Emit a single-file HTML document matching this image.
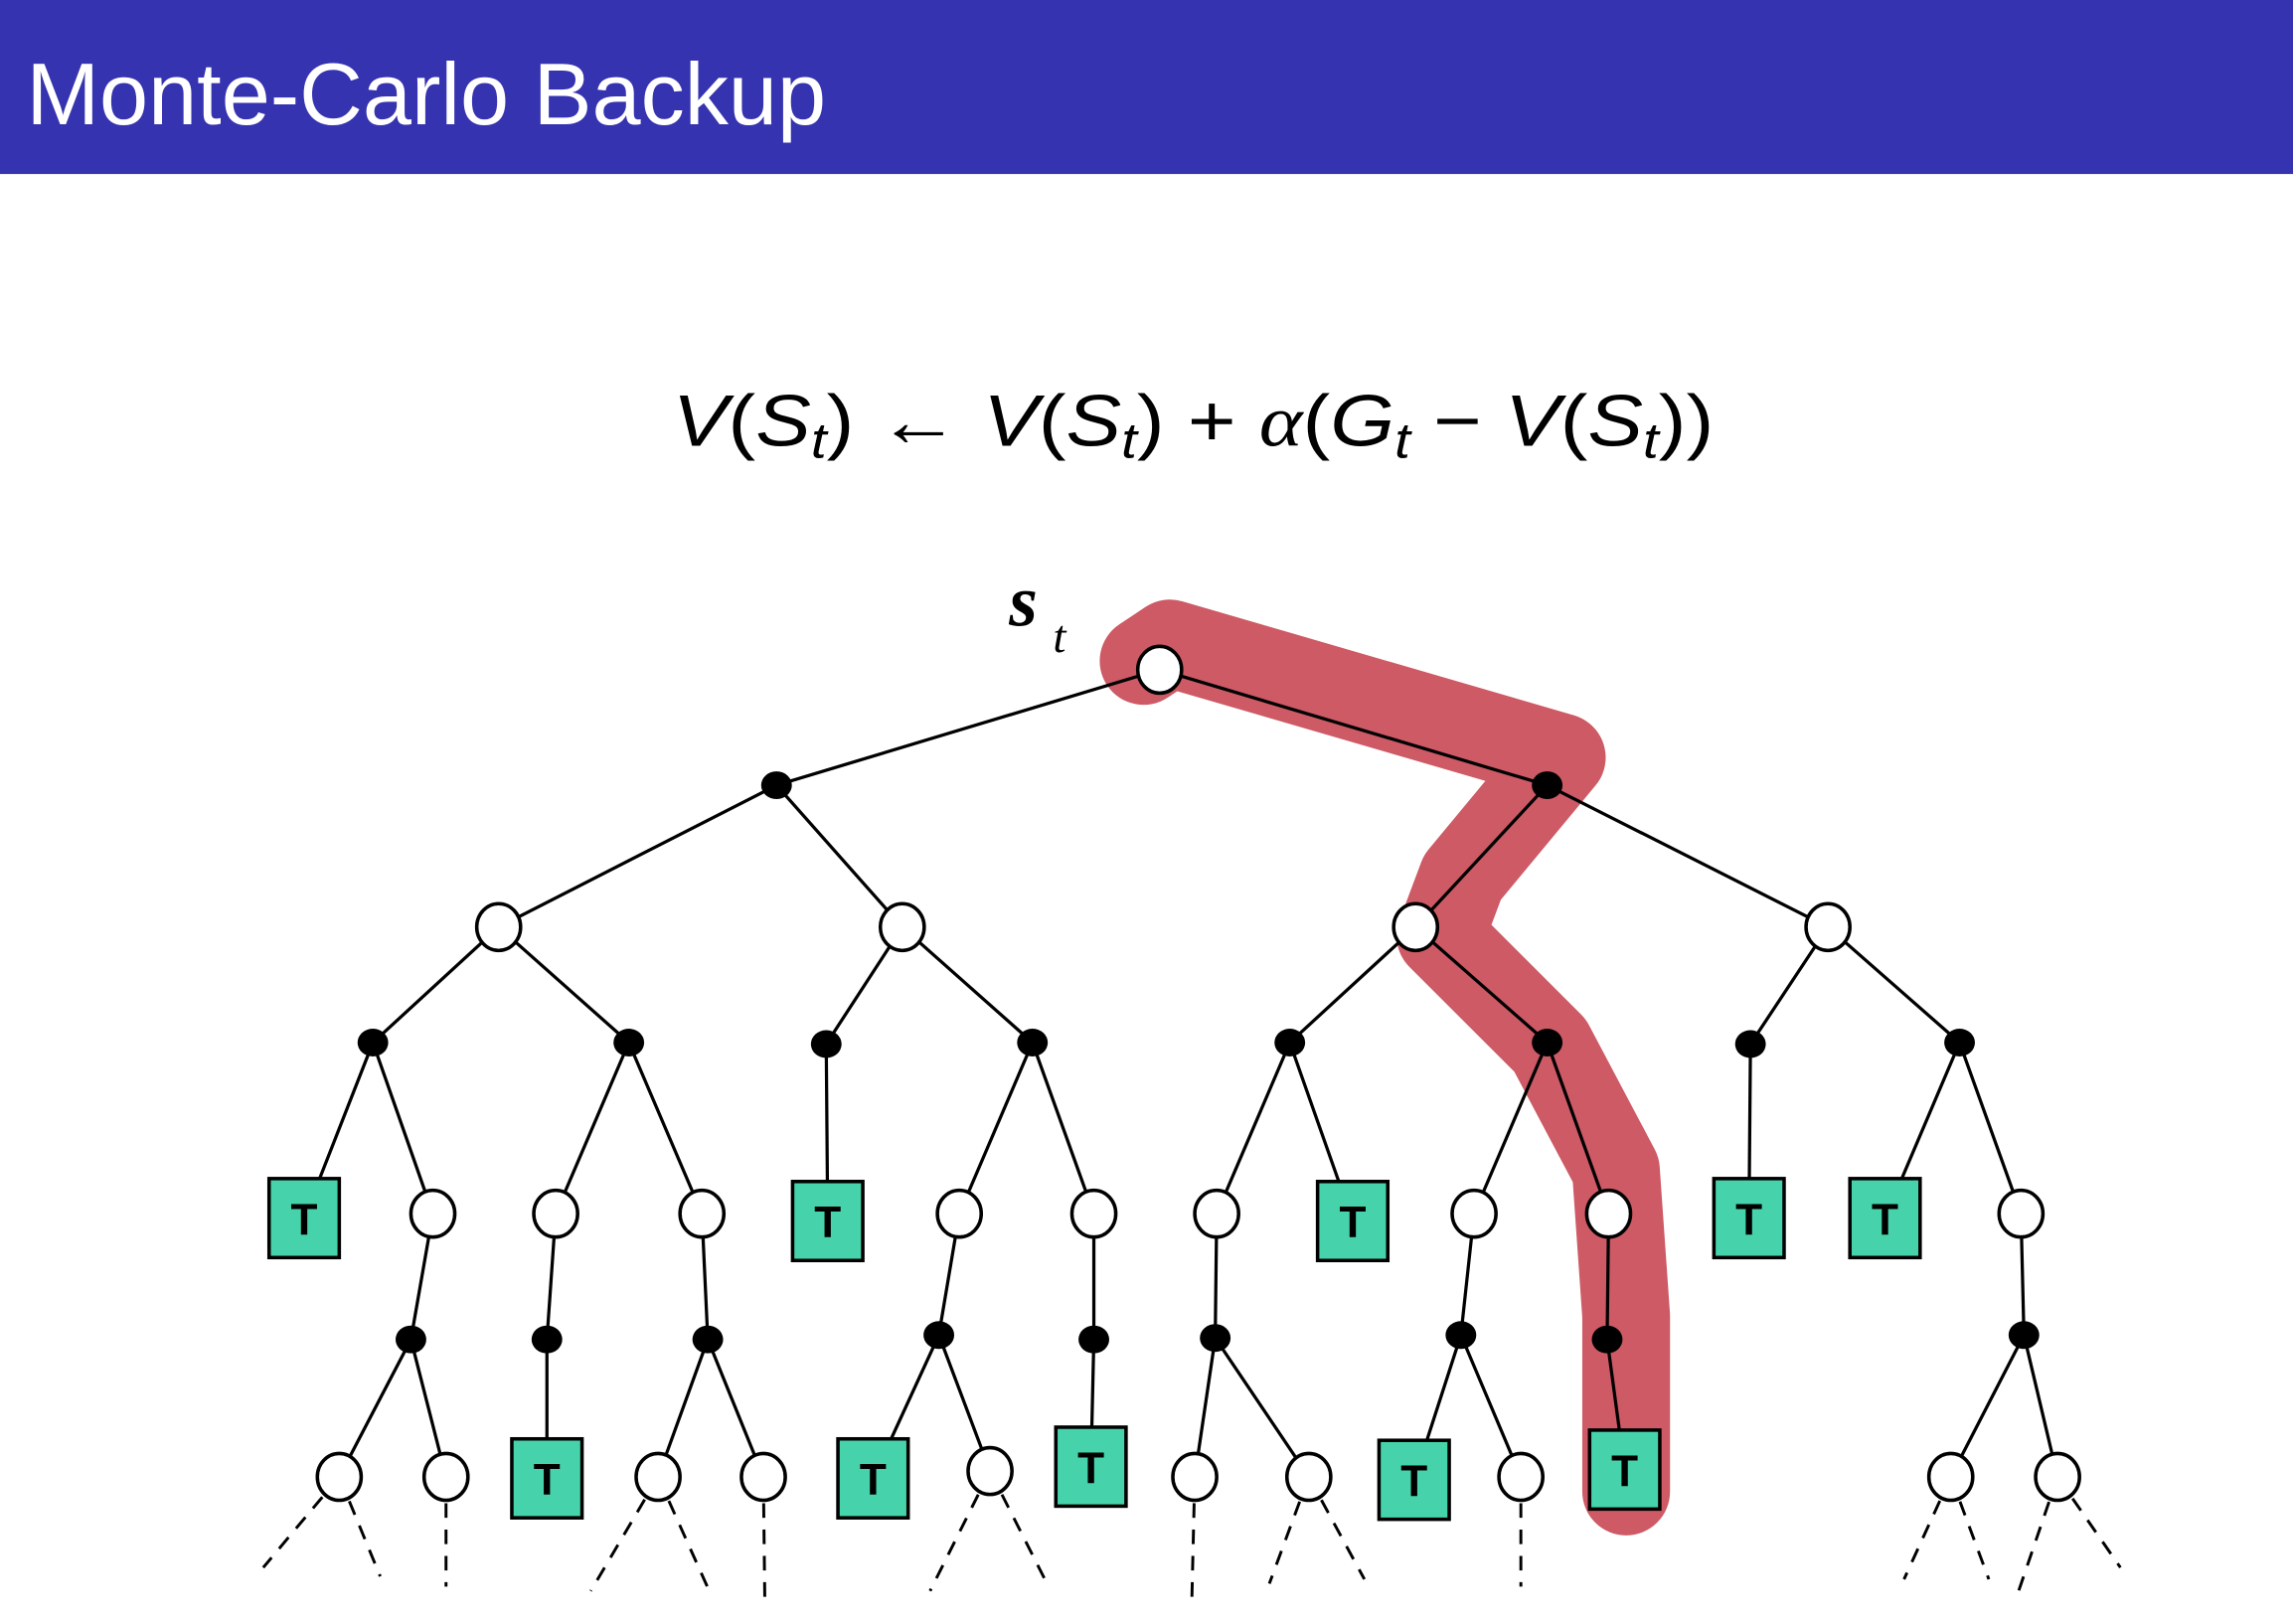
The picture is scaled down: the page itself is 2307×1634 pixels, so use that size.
<!DOCTYPE html>
<html><head><meta charset="utf-8"><style>
html,body{margin:0;padding:0;background:#fff;}
svg{display:block;}
</style></head><body>
<svg id="fig" width="2307" height="1634" viewBox="0 0 1568 1110.6" preserveAspectRatio="none" xmlns="http://www.w3.org/2000/svg">
<rect x="0" y="0" width="1568" height="119" fill="#3633B0"/>
<text x="18" y="85" font-family="'Liberation Sans',sans-serif" font-size="60" fill="#fff">Monte-Carlo Backup</text>
<text x="460" y="305" font-family="'Liberation Sans',sans-serif" font-size="50" fill="#000" textLength="712" lengthAdjust="spacingAndGlyphs"><tspan font-style="italic">V</tspan>(<tspan font-style="italic">S</tspan><tspan font-style="italic" font-size="34" dy="8">t</tspan><tspan dy="-8">) ← </tspan><tspan font-style="italic">V</tspan>(<tspan font-style="italic">S</tspan><tspan font-style="italic" font-size="34" dy="8">t</tspan><tspan dy="-8">) + </tspan><tspan font-family="'Liberation Serif',serif" font-style="italic">α</tspan>(<tspan font-style="italic">G</tspan><tspan font-style="italic" font-size="34" dy="8">t</tspan><tspan dy="-8"> − </tspan><tspan font-style="italic">V</tspan>(<tspan font-style="italic">S</tspan><tspan font-style="italic" font-size="34" dy="8">t</tspan><tspan dy="-8">))</tspan></text>
<polyline points="782,452 800,440 1068,518 1000,600 985,640 1060,715 1105,800 1112,900 1112,1020" fill="none" stroke="#CD5A65" stroke-width="60" stroke-linejoin="round" stroke-linecap="round"/>
<text x="690" y="428" font-family="'Liberation Serif',serif" font-style="italic" font-weight="bold" font-size="50">s</text>
<text x="720" y="446" font-family="'Liberation Serif',serif" font-style="italic" font-size="32">t</text>
<g id="edges"></g><g id="dashes"></g><g id="nodes"></g>
</svg>
<script>
// node arrays: id, type (o=state, a=action, T=terminal), x, y, parent
const nodeIds=["r","a1","a2","s1","s2","s3","s4","b1","b2","b3","b4","b5","b6","b7","b8",
"c1","c2","c3","c4","c5","c6","c7","c8","c9","c10","c11","c12","c13","c14",
"d1","d2","d3","d4","d5","d6","d7","d8","d9",
"e1","e2","e3","e4","e5","e6","e7","e8","e9","e10","e11","e12","e13","e14","e15"];
const nodeTypes=["o","a","a","o","o","o","o","a","a","a","a","a","a","a","a",
"T","o","o","o","T","o","o","o","T","o","o","T","T","o",
"a","a","a","a","a","a","a","a","a",
"o","o","T","o","o","T","o","T","o","o","T","o","T","o","o"];
const nodeX=[793,531,1058,341,617,968,1250,255,430,565,706,882,1058,1197,1340,
208,296,380,480,566,656,748,832,925,1008,1100,1196,1289,1382,
281,374,484,642,748,831,999,1099,1384,
232,305,374,450,522,597,677,746,817,895,967,1040,1111,1334,1407];
const nodeY=[458,537,537,634,634,634,634,713,713,714,713,713,713,714,713,
833,830,830,830,835,830,830,830,835,830,830,833,833,830,
916,916,916,913,916,915,913,916,913,
1010,1010,1011,1010,1010,1011,1006,1003,1010,1010,1012,1010,1005,1010,1010];
const nodeParent=[null,"r","r","a1","a1","a2","a2","s1","s1","s2","s2","s3","s3","s4","s4",
"b1","b1","b2","b2","b3","b4","b4","b5","b5","b6","b6","b7","b8","b8",
"c2","c3","c4","c6","c7","c8","c10","c11","c14",
"d1","d1","d2","d3","d3","d4","d4","d5","d6","d6","d7","d7","d8","d9","d9"];
const dashFrom=["e1","e1","e2","e4","e4","e5","e7","e7","e9","e10","e10","e12","e14","e14","e15","e15"];
const dashEndX=[180,260,305,404,485,523,636,716,815,868,933,1040,1302,1360,1378,1450];
const dashEndY=[1072,1078,1085,1088,1088,1095,1088,1083,1095,1083,1080,1085,1080,1080,1095,1072];

const NS="http://www.w3.org/2000/svg";
const idx={};nodeIds.forEach((id,i)=>idx[id]=i);
const gE=document.getElementById("edges"),gD=document.getElementById("dashes"),gN=document.getElementById("nodes");
function mk(t,a){const e=document.createElementNS(NS,t);for(const k in a)e.setAttribute(k,a[k]);return e;}
nodeIds.forEach((id,i)=>{
  const p=nodeParent[i];if(p===null)return;const j=idx[p];
  const l=mk("line",{x1:nodeX[j],y1:nodeY[j],x2:nodeX[i],y2:nodeY[i],stroke:"#000","stroke-width":2.2});
  
  
  gE.appendChild(l);
});
dashFrom.forEach((f,k)=>{
  const j=idx[f];
  const l=mk("line",{x1:nodeX[j],y1:nodeY[j],x2:dashEndX[k],y2:dashEndY[k],stroke:"#000","stroke-width":2,"stroke-dasharray":"10,8"});
  
  
  gD.appendChild(l);
});
nodeIds.forEach((id,i)=>{
  const x=nodeX[i],y=nodeY[i],t=nodeTypes[i];let el;
  if(t==="o"){
    el=mk("ellipse",{cx:x,cy:y,rx:15,ry:16,fill:"#fff",stroke:"#000","stroke-width":2.4});
    
  }else if(t==="a"){
    el=mk("ellipse",{cx:x,cy:y,rx:10.5,ry:9.5,fill:"#000"});
    
  }else{
    el=mk("g",{});
    
    el.appendChild(mk("rect",{x:x-24,y:y-27,width:48,height:54,fill:"#46D3AB",stroke:"#000","stroke-width":2.4}));
    const tx=mk("text",{x:x,y:y+11,"text-anchor":"middle","font-family":"'Liberation Sans',sans-serif","font-weight":"bold","font-size":30,fill:"#000"});
    tx.textContent="T";el.appendChild(tx);
  }
  
  gN.appendChild(el);
});
</script>
</body></html>
